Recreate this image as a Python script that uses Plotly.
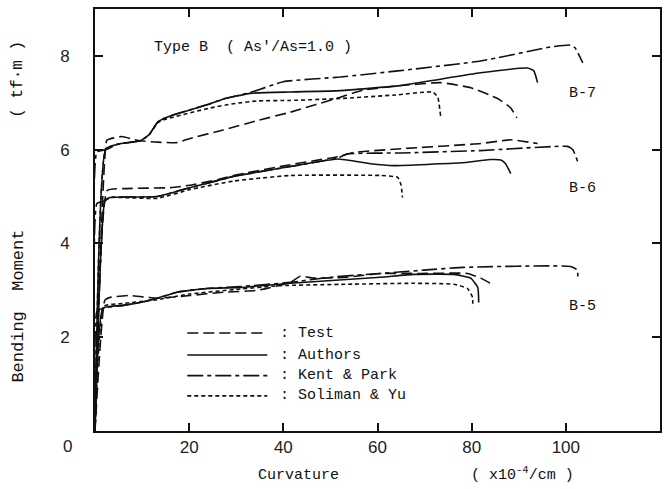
import plotly.graph_objects as go

# ---------------- data (curvature x10^-4/cm, moment tf.m) ----------------
series_names = ["Test", "Authors", "Kent & Park", "Soliman & Yu"]
specimen_labels = ["B-7", "B-6", "B-5"]
specimen_label_y = [7.19, 5.17, 2.66]
x_tick_vals = [20, 40, 60, 80, 100]
y_tick_vals = [2, 4, 6, 8]

# B-7
b7_test_x = [0, 2.5, 3.2, 5.7, 8.1, 9.6, 13.2, 17.4, 20.2, 27.2, 34.5, 41.5, 52.1, 57.0, 64.3, 73.4, 79.8, 85.5, 88.3, 89.6]
b7_test_y = [0, 6.20, 6.23, 6.28, 6.22, 6.19, 6.16, 6.15, 6.24, 6.42, 6.62, 6.80, 7.12, 7.27, 7.36, 7.43, 7.32, 7.09, 6.89, 6.68]
b7_auth_x = [0, 2.3, 5.0, 9.6, 11.5, 13.4, 16.0, 24.5, 27.3, 33.0, 41.5, 52.1, 64.3, 71.3, 81.9, 91.9, 93.2, 94.0]
b7_auth_y = [0, 6.02, 6.12, 6.19, 6.32, 6.60, 6.72, 6.98, 7.08, 7.20, 7.23, 7.26, 7.36, 7.47, 7.64, 7.74, 7.68, 7.43]
b7_kp_x = [0, 0.4, 2.3, 5.0, 9.6, 11.5, 13.4, 16.0, 24.5, 27.3, 33.0, 40.0, 52.1, 64.3, 81.9, 96.8, 101.0, 102.0, 103.6]
b7_kp_y = [0, 5.95, 6.00, 6.12, 6.19, 6.32, 6.60, 6.72, 6.98, 7.08, 7.22, 7.45, 7.55, 7.68, 7.89, 8.19, 8.23, 8.17, 7.85]
b7_sy_x = [0, 2.3, 5.0, 9.6, 11.5, 13.4, 15.3, 24.5, 29.4, 34.5, 41.5, 52.1, 64.3, 71.7, 72.8, 73.4]
b7_sy_y = [0, 6.02, 6.12, 6.19, 6.32, 6.58, 6.66, 6.89, 6.98, 7.04, 7.05, 7.09, 7.17, 7.23, 7.12, 6.72]

# B-6
b6_test_x = [0, 2.6, 6.0, 16.0, 20.0, 26.0, 29.4, 41.5, 51.5, 54.9, 65.0, 81.9, 88.3, 94.0]
b6_test_y = [0, 5.13, 5.17, 5.19, 5.24, 5.36, 5.45, 5.68, 5.85, 5.94, 6.02, 6.13, 6.21, 6.13]
b6_auth_x = [0, 2.1, 3.2, 13.2, 18.7, 26.0, 29.4, 41.5, 51.5, 58.5, 63.4, 77.7, 84.0, 86.2, 87.2, 88.3]
b6_auth_y = [0, 4.91, 4.98, 5.00, 5.15, 5.34, 5.43, 5.64, 5.80, 5.70, 5.66, 5.72, 5.79, 5.78, 5.70, 5.49]
b6_kp_x = [0, 0.4, 2.1, 3.2, 13.2, 18.7, 26.0, 29.4, 41.5, 51.5, 53.6, 65.0, 81.9, 100.4, 101.5, 102.5]
b6_kp_y = [0, 4.85, 4.91, 4.98, 5.00, 5.15, 5.34, 5.43, 5.64, 5.82, 5.91, 5.93, 5.98, 6.07, 6.00, 5.75]
b6_sy_x = [0, 2.1, 3.2, 13.2, 20.2, 29.4, 41.5, 60.6, 64.3, 65.0, 65.3]
b6_sy_y = [0, 4.91, 4.98, 4.96, 5.15, 5.33, 5.45, 5.45, 5.41, 5.25, 4.98]

# B-5
b5_test_x = [0, 2.1, 3.2, 7.4, 11.1, 13.2, 20.2, 27.2, 34.5, 41.5, 43.6, 46.4, 53.6, 60.6, 69.1, 79.1, 81.9, 84.7]
b5_test_y = [0, 2.79, 2.85, 2.89, 2.85, 2.83, 2.89, 2.96, 3.00, 3.17, 3.30, 3.26, 3.28, 3.36, 3.36, 3.36, 3.26, 3.11]
b5_auth_x = [0, 1.7, 6.0, 9.6, 13.2, 17.4, 23.8, 30.9, 36.6, 41.5, 60.6, 67.7, 76.2, 79.8, 81.3, 81.5]
b5_auth_y = [0, 2.62, 2.68, 2.74, 2.83, 2.96, 3.04, 3.06, 3.11, 3.15, 3.28, 3.34, 3.34, 3.26, 3.06, 2.74]
b5_kp_x = [0, 0.4, 1.7, 6.0, 9.6, 13.2, 17.4, 23.8, 30.9, 41.5, 50.0, 60.6, 69.8, 78.3, 101.0, 102.5, 102.5]
b5_kp_y = [0, 2.55, 2.62, 2.68, 2.74, 2.83, 2.96, 3.04, 3.08, 3.17, 3.28, 3.36, 3.43, 3.49, 3.51, 3.43, 3.26]
b5_sy_x = [0, 1.9, 6.0, 13.2, 20.0, 30.0, 39.4, 53.6, 67.7, 76.2, 79.1, 80.2, 80.2]
b5_sy_y = [0, 2.66, 2.72, 2.80, 2.92, 3.02, 3.10, 3.13, 3.15, 3.13, 3.04, 2.85, 2.64]

# ---------------- styles ----------------
INK = "#111111"
MONO = "Liberation Mono, Courier New, monospace"
SANS = "Liberation Sans, Arial, sans-serif"
dash_styles = {
    "Test": "11px,5px",
    "Authors": "solid",
    "Kent & Park": "16px,4px,4px,4px",
    "Soliman & Yu": "4px,3px",
}

curves = [
    ("Test", b7_test_x, b7_test_y), ("Authors", b7_auth_x, b7_auth_y),
    ("Kent & Park", b7_kp_x, b7_kp_y), ("Soliman & Yu", b7_sy_x, b7_sy_y),
    ("Test", b6_test_x, b6_test_y), ("Authors", b6_auth_x, b6_auth_y),
    ("Kent & Park", b6_kp_x, b6_kp_y), ("Soliman & Yu", b6_sy_x, b6_sy_y),
    ("Test", b5_test_x, b5_test_y), ("Authors", b5_auth_x, b5_auth_y),
    ("Kent & Park", b5_kp_x, b5_kp_y), ("Soliman & Yu", b5_sy_x, b5_sy_y),
]

fig = go.Figure()
for name, xs, ys in curves:
    fig.add_trace(go.Scatter(
        x=xs, y=ys, mode="lines", name=name, showlegend=False,
        line=dict(color=INK, width=1.6, dash=dash_styles[name], shape="spline", smoothing=0.4),
        hoverinfo="skip",
    ))

# custom legend (long line samples like the original)
legend_rows_y = [2.09, 1.62, 1.18, 0.75]
for name, ry in zip(series_names, legend_rows_y):
    fig.add_trace(go.Scatter(
        x=[19.6, 36.6], y=[ry, ry], mode="lines", showlegend=False, hoverinfo="skip",
        line=dict(color=INK, width=1.6, dash=dash_styles[name]),
    ))
    fig.add_annotation(x=38.9, y=ry, xref="x", yref="y", text=": " + name,
                       showarrow=False, xanchor="left", yanchor="middle",
                       font=dict(family=MONO, size=15, color=INK))

for lab, ly in zip(specimen_labels, specimen_label_y):
    fig.add_annotation(x=103.6, y=ly, xref="x", yref="y", text=lab, showarrow=False,
                       xanchor="center", yanchor="middle",
                       font=dict(family=MONO, size=15, color=INK))

fig.add_annotation(x=12.2, y=8.17, xref="x", yref="y", text="Type B  ( As'/As=1.0 )",
                   showarrow=False, xanchor="left", yanchor="middle",
                   font=dict(family=MONO, size=15, color=INK))

# axis titles / corner label, placed in pixel positions (converted to paper below)
W, H = 670, 489
ML, MR, MT, MB = 95, 10, 7, 58
pw, ph = W - ML - MR, H - MT - MB


def px_ann(px, py, text, angle=0, family=MONO, size=15, color=INK):
    fig.add_annotation(x=(px - ML) / pw, y=(H - MB - py) / ph, xref="paper", yref="paper",
                       text=text, textangle=angle, showarrow=False,
                       xanchor="center", yanchor="middle",
                       font=dict(family=family, size=size, color=color))


px_ann(19, 306, "Bending  Moment", angle=-90, size=17)
px_ann(18, 78, "( tf·m )", angle=-90, size=16)
px_ann(298, 476, "Curvature")
px_ann(522, 474, "( x10<sup>-4</sup>/cm )")
px_ann(67, 447, "0", family=SANS, size=17, color="#222")

axis_common = dict(
    showline=True, linecolor=INK, linewidth=2, mirror="ticks",
    ticks="inside", ticklen=8, tickwidth=1.5, tickcolor=INK,
    showgrid=False, zeroline=False,
    tickfont=dict(family=SANS, size=17, color="#222"),
)
fig.update_xaxes(range=[0, 120], tickvals=x_tick_vals, ticklabelstandoff=0, **axis_common)
fig.update_yaxes(range=[0, 9], tickvals=y_tick_vals, ticklabelstandoff=20, **axis_common)

fig.update_layout(
    width=W, height=H,
    margin=dict(l=ML, r=MR, t=MT, b=MB),
    paper_bgcolor="white", plot_bgcolor="white",
    showlegend=False,
)

fig.write_html("out.html", config={"displayModeBar": False},
               post_script="document.body.style.margin='0';document.body.style.overflow='hidden';")
